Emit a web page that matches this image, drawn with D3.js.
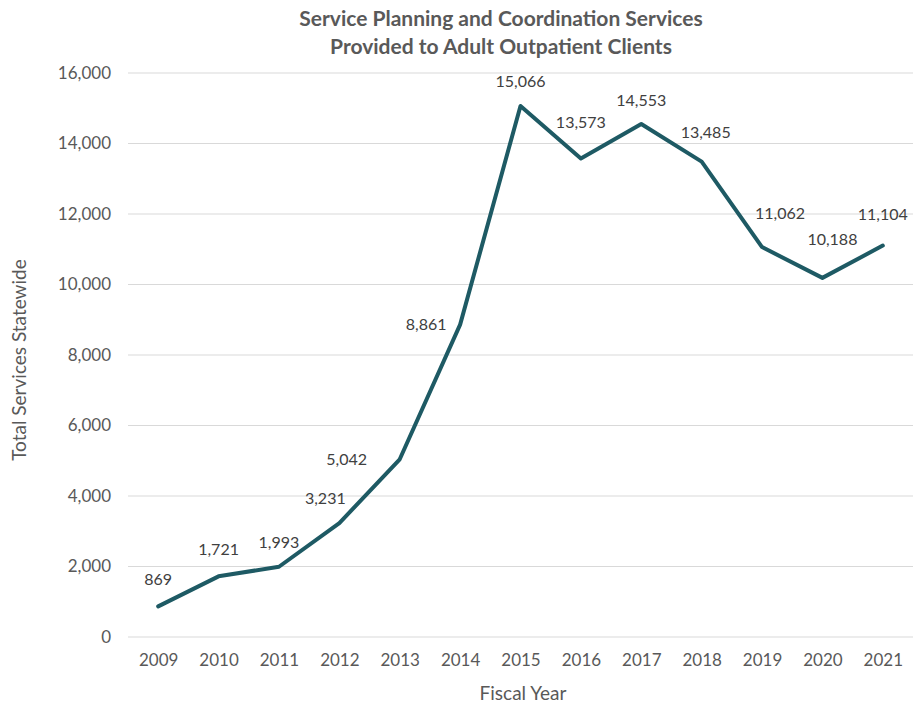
<!DOCTYPE html>
<html><head><meta charset="utf-8">
<script src="https://cdn.jsdelivr.net/npm/d3@7"></script>
<style>body{margin:0;background:#fff}</style>
</head><body>
<svg id="c" width="914" height="709"></svg>
<script>
const years = ["2009","2010","2011","2012","2013","2014","2015","2016","2017","2018","2019","2020","2021"];
const services = [869,1721,1993,3231,5042,8861,15066,13573,14553,13485,11062,10188,11104];
const yTicks = [0,2000,4000,6000,8000,10000,12000,14000,16000];
// label placement offsets (dx, dy) relative to each point
const labelDx = [0,0,0,-14,-53,-34,0,0,0,4,18,10,0];
const labelDy = [-25,-25,-23,-23,2,1,-23,-35,-22,-28,-32,-37,-30];

const svg = d3.select("#c");
const font = "Lato, 'Open Sans', sans-serif";
const gray = "#595959";
const m = {left:128, right:913, top:73, bottom:637};

const x = d3.scalePoint().domain(years).range([m.left, m.right]).padding(0.5);
const y = d3.scaleLinear().domain([0,16000]).range([m.bottom, m.top]);

// gridlines
svg.append("g").selectAll("line").data(yTicks).join("line")
  .attr("x1", m.left).attr("x2", m.right)
  .attr("y1", d=>y(d)).attr("y2", d=>y(d))
  .attr("stroke", "#d9d9d9").attr("stroke-width", 1.2);

// y axis
const yAxis = svg.append("g").attr("transform", `translate(${m.left},0)`)
  .call(d3.axisLeft(y).tickValues(yTicks).tickFormat(d3.format(",")).tickSize(0).tickPadding(17));
yAxis.select(".domain").remove();
yAxis.selectAll("text").attr("font-family", font).attr("font-size", 17).attr("fill", gray);

// x axis
const xAxis = svg.append("g").attr("transform", `translate(0,${m.bottom})`)
  .call(d3.axisBottom(x).tickSize(0).tickPadding(17));
xAxis.select(".domain").remove();
xAxis.selectAll("text").attr("font-family", font).attr("font-size", 17).attr("fill", gray);

// line
const line = d3.line().x((d,i)=>x(years[i])).y(d=>y(d));
svg.append("path").datum(services)
  .attr("d", line).attr("fill","none")
  .attr("stroke","#1e5a64").attr("stroke-width",4)
  .attr("stroke-linejoin","round").attr("stroke-linecap","round");

// labels
svg.append("g").selectAll("text").data(services).join("text")
  .attr("x", (d,i)=>x(years[i]) + labelDx[i])
  .attr("y", (d,i)=>y(d) + labelDy[i])
  .attr("text-anchor","middle").attr("dominant-baseline","middle")
  .attr("font-family", font).attr("font-size", 16).attr("fill", "#404040")
  .text(d=>d3.format(",")(d));

// title
const t = svg.append("text").attr("text-anchor","middle")
  .attr("font-family", font).attr("font-weight","bold").attr("font-size",21).attr("fill",gray);
t.append("tspan").attr("x",501).attr("y",26).text("Service Planning and Coordination Services");
t.append("tspan").attr("x",501).attr("y",54).text("Provided to Adult Outpatient Clients");

// axis titles
svg.append("text").attr("x",523).attr("y",700).attr("text-anchor","middle")
  .attr("font-family",font).attr("font-size",19).attr("fill",gray).text("Fiscal Year");
svg.append("text").attr("transform","translate(26,360) rotate(-90)").attr("text-anchor","middle")
  .attr("font-family",font).attr("font-size",19).attr("fill",gray).text("Total Services Statewide");
</script>
</body></html>
